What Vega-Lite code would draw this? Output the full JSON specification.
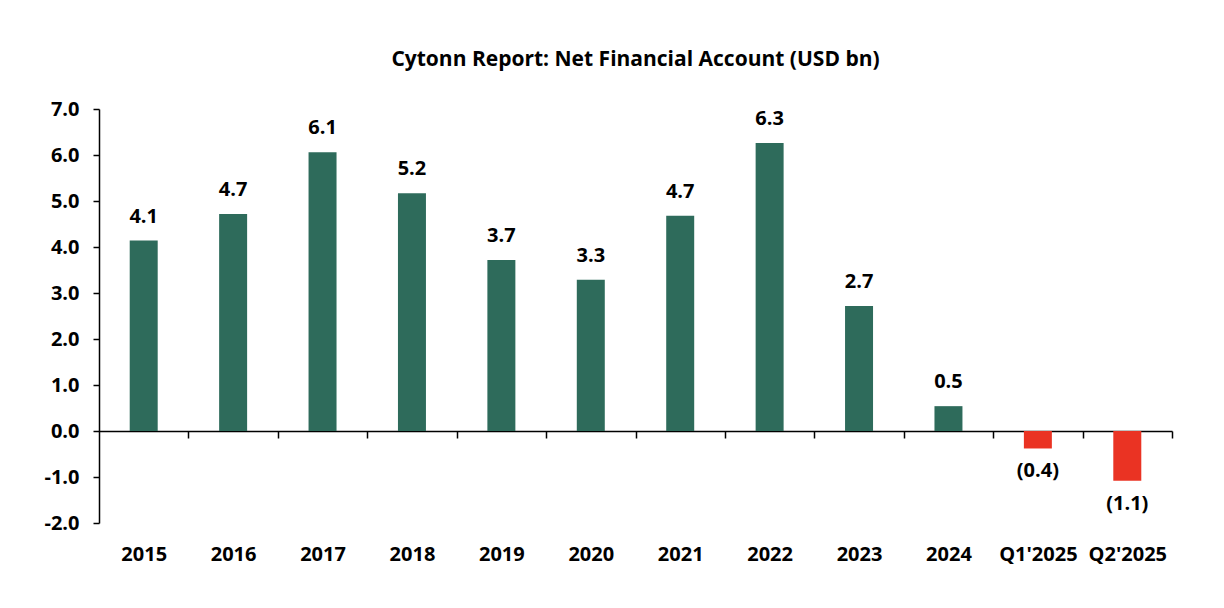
{
  "$schema": "https://vega.github.io/schema/vega-lite/v6.json",
  "autosize": "none",
  "width": 1073,
  "height": 414,
  "padding": {"left": 99, "top": 109, "right": 52, "bottom": 85},
  "background": "white",
  "title": {
    "text": "Cytonn Report: Net Financial Account (USD bn)",
    "font": "Open Sans",
    "fontSize": 21,
    "fontWeight": "bold",
    "color": "black",
    "anchor": "middle",
    "offset": 29
  },
  "config": {
    "view": {"stroke": null},
    "font": "Open Sans",
    "axis": {"grid": false}
  },
  "data": {
    "values": [
      {"period": "2015", "value": 4.14},
      {"period": "2016", "value": 4.72},
      {"period": "2017", "value": 6.06},
      {"period": "2018", "value": 5.17},
      {"period": "2019", "value": 3.72},
      {"period": "2020", "value": 3.29},
      {"period": "2021", "value": 4.68},
      {"period": "2022", "value": 6.26},
      {"period": "2023", "value": 2.72},
      {"period": "2024", "value": 0.54},
      {"period": "Q1'2025", "value": -0.38},
      {"period": "Q2'2025", "value": -1.08}
    ]
  },
  "encoding": {
    "x": {
      "field": "period",
      "type": "nominal",
      "sort": null,
      "scale": {"paddingInner": 0.687, "paddingOuter": 0.3435},
      "axis": {
        "title": null,
        "labelAngle": 0,
        "offset": -92,
        "domainColor": "black",
        "domainWidth": 1.5,
        "tickColor": "black",
        "tickWidth": 1.5,
        "tickSize": 7,
        "tickOffset": 44.71,
        "labelOffset": -44.71,
        "labelPadding": 106,
        "labelFont": "Open Sans",
        "labelFontSize": 20,
        "labelFontWeight": "bold",
        "labelColor": "black"
      }
    },
    "y": {
      "field": "value",
      "type": "quantitative",
      "scale": {"domain": [-2, 7], "nice": false},
      "axis": {
        "title": null,
        "values": [-2, -1, 0, 1, 2, 3, 4, 5, 6, 7],
        "labelExpr": "datum.value < 0 ? '-' + format(-datum.value, '.1f') : format(datum.value, '.1f')",
        "domainColor": "black",
        "domainWidth": 1.5,
        "tickColor": "black",
        "tickWidth": 1.5,
        "tickSize": 6,
        "labelPadding": 14,
        "labelFont": "Open Sans",
        "labelFontSize": 20,
        "labelFontWeight": "bold",
        "labelColor": "black"
      }
    }
  },
  "layer": [
    {
      "mark": {"type": "bar"},
      "encoding": {
        "color": {
          "condition": {"test": "datum.value < 0", "value": "#EA3323"},
          "value": "#2E6B5B"
        }
      }
    },
    {
      "transform": [{"filter": "datum.value >= 0"}],
      "mark": {"type": "text", "baseline": "alphabetic", "dy": -18, "fontSize": 20, "fontWeight": "bold", "font": "Open Sans", "color": "black"},
      "encoding": {"text": {"field": "value", "type": "quantitative", "format": "(.1f"}}
    },
    {
      "transform": [{"filter": "datum.value < 0"}],
      "mark": {"type": "text", "baseline": "top", "dy": 13, "fontSize": 20, "fontWeight": "bold", "font": "Open Sans", "color": "black"},
      "encoding": {"text": {"field": "value", "type": "quantitative", "format": "(.1f"}}
    }
  ]
}
